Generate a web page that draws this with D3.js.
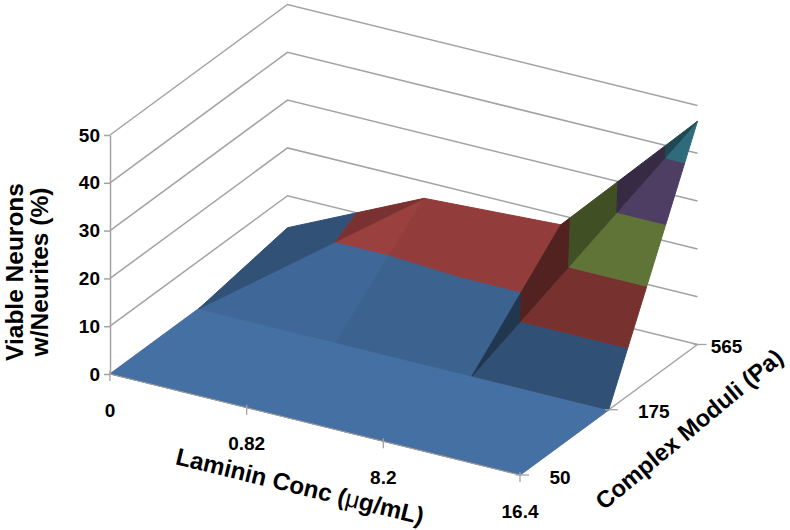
<!DOCTYPE html>
<html>
<head>
<meta charset="utf-8">
<script src="https://cdn.jsdelivr.net/npm/d3@7/dist/d3.min.js"></script>
<style>
html,body{margin:0;padding:0;background:#fff}
svg{display:block}
text{font-family:"Liberation Sans",Arial,sans-serif;font-weight:bold;fill:#000}
</style>
</head>
<body>
<svg id="c" width="790" height="530"></svg>
<script>
// ---- data ----
const laminin = ["0", "0.82", "8.2", "16.4"];
const moduli = ["50", "175", "565"];
const row50 = [0, 0, 0, 0];
const row175 = [0, 0, 0, 0];
const row565 = [3.3, 16.5, 18, 46.7];
const zTicks = [0, 10, 20, 30, 40, 50];
const bandColors = ["#4F81BD", "#C0504D", "#9BBB59", "#8064A2", "#4BACC6"];

const rows = [row50, row175, row565];

// ---- scales and oblique projection ----
const svg = d3.select("#c");
const xS = d3.scalePoint().domain(laminin).range([0, 1]);
const yS = d3.scalePoint().domain(moduli).range([0, 1]);
const zS = d3.scaleLinear().domain([0, 50]).range([0, 239]);
const O = [110, 374], VX = [410, 101], VY = [177.5, -130.5];
const project = (u, v, z) => [O[0] + VX[0] * u + VY[0] * v, O[1] + VX[1] * u + VY[1] * v - zS(z)];
const P = (c, r) => ({ u: xS(laminin[c]), v: yS(moduli[r]), z: rows[r][c] });

const grid = "#a3a3a3";

// ---- walls ----
const wall = svg.append("g").attr("fill", "none").attr("stroke", grid).attr("stroke-width", 1.5);
zTicks.forEach(z => {
  const pts = [project(0, 0, z), project(0, 1, z), project(1, 1, z)];
  wall.append("path").attr("d", d3.line()(pts));
});
// floor edge on the right
wall.append("path").attr("d", d3.line()([project(1, 0, 0), project(1, 1, 0)]));

// ---- surface: each cell split into two triangles, cut into value bands ----
function clip(poly, lo, hi) {
  const cut = (pts, inside, level) => {
    const out = [];
    pts.forEach((a, i) => {
      const b = pts[(i + 1) % pts.length];
      const ia = inside(a), ib = inside(b);
      if (ia) out.push(a);
      if (ia !== ib) {
        const t = (level - a.z) / (b.z - a.z);
        out.push({ u: a.u + (b.u - a.u) * t, v: a.v + (b.v - a.v) * t, z: level });
      }
    });
    return out;
  };
  let r = cut(poly, p => p.z >= lo, lo);
  if (r.length) r = cut(r, p => p.z <= hi, hi);
  return r;
}
// brightness per triangle [lower-right, upper-left] for each cell (row, column)
const shade = {
  "0,0": [.87, .87], "0,1": [.87, .87], "0,2": [.87, .87],
  "1,0": [.80, .63], "1,1": [.76, .76], "1,2": [.62, .42]
};
const lineGen = d3.line();
const surf = svg.append("g");
d3.range(moduli.length - 1).forEach(r => {
  d3.range(laminin.length - 1).forEach(c => {
    const a = P(c, r), b = P(c + 1, r), d = P(c + 1, r + 1), e = P(c, r + 1);
    const tris = [[a, b, d], [a, d, e]];
    tris.forEach((tri, k) => {
      bandColors.forEach((col, bi) => {
        const poly = clip(tri, zTicks[bi], zTicks[bi + 1]);
        if (poly.length < 3) return;
        const s = shade[r + "," + c][k];
        const rgb = d3.rgb(col);
        const fill = d3.rgb(rgb.r * s, rgb.g * s, rgb.b * s).formatHex();
        surf.append("path")
          .attr("d", lineGen(poly.map(p => project(p.u, p.v, p.z))) + "Z")
          .attr("fill", fill).attr("stroke", fill).attr("stroke-width", 1).attr("stroke-linejoin", "round");
      });
    });
  });
});

// ---- axes ----
const ax = svg.append("g").attr("stroke", grid).attr("stroke-width", 1.3).attr("fill", "none");
ax.append("path").attr("d", lineGen([project(0, 0, 0), project(1, 0, 0)])).attr("stroke", "#a89f90").attr("stroke-width", 1);
laminin.forEach(l => {
  const p = project(xS(l), 0, 0);
  ax.append("line").attr("x1", p[0]).attr("x2", p[0]).attr("y1", p[1] - 3).attr("y2", p[1] + 7);
});
moduli.forEach(m => {
  const p = project(1, yS(m), 0);
  ax.append("line").attr("x1", p[0] - 4).attr("x2", p[0] + 9).attr("y1", p[1]).attr("y2", p[1]);
});

const zAxisScale = d3.scaleLinear().domain([0, 50]).range([O[1], O[1] - zS(50)]);
const zAxis = svg.append("g").attr("transform", `translate(${O[0]},0)`)
  .call(d3.axisLeft(zAxisScale).tickValues(zTicks).tickSize(6).tickPadding(4).tickSizeOuter(0));
zAxis.selectAll("path,line").attr("stroke", grid).attr("stroke-width", 1.5);
zAxis.selectAll("text").attr("font-size", 19).attr("font-family", '"Liberation Sans"').attr("fill", "#000");

// ---- tick labels ----
const lbl = (t, x, y) => svg.append("text").attr("x", x).attr("y", y)
  .attr("text-anchor", "middle").attr("dominant-baseline", "central").attr("font-size", 19).text(t);
laminin.forEach(l => {
  const p = project(xS(l), 0, 0);
  lbl(l, p[0], p[1] + 36);
});
const moduliLabelGap = [40, 45, 29];
moduli.forEach((m, i) => {
  const p = project(1, yS(m), 0);
  lbl(m, p[0] + moduliLabelGap[i], p[1] + 2);
});

// ---- titles ----
svg.append("text").attr("text-anchor", "middle").attr("font-size", 24.5)
  .attr("transform", "translate(14,272) rotate(-90)").attr("dy", "0.35em").text("Viable Neurons");
svg.append("text").attr("text-anchor", "middle").attr("font-size", 24.5)
  .attr("transform", "translate(39,272) rotate(-90)").attr("dy", "0.35em").text("w/Neurites (%)");

const xt = svg.append("text").attr("text-anchor", "middle").attr("font-size", 24.2)
  .attr("transform", "translate(300,486) rotate(13.8)").attr("dy", "0.35em");
xt.append("tspan").text("Laminin Conc (");
xt.append("tspan").style("font-weight", "normal").text("\u03BC");
xt.append("tspan").text("g/mL)");

svg.append("text").attr("text-anchor", "middle").attr("font-size", 23.8)
  .attr("transform", "translate(689,429) rotate(-39.8)").attr("dy", "0.35em").text("Complex Moduli (Pa)");
</script>
</body>
</html>
